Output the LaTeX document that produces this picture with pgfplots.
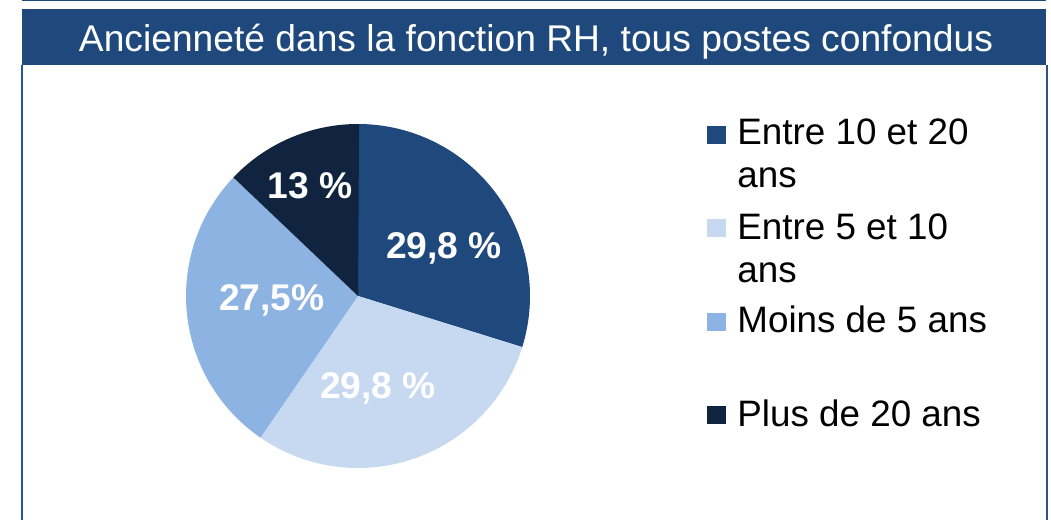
\documentclass[border=0pt]{standalone}
\usepackage{pgfplots}
\pgfplotsset{compat=1.18}
\usepackage{fontspec}
\setmainfont{Liberation Sans}
\definecolor{cA}{HTML}{1F497D}
\definecolor{cB}{HTML}{C6D9F1}
\definecolor{cC}{HTML}{8DB3E2}
\definecolor{cD}{HTML}{11243F}
\definecolor{frame}{HTML}{2A5589}
% data (percent)
\def\vA{29.8}\def\vB{29.8}\def\vC{27.5}\def\vD{13}
\begin{document}
\begin{tikzpicture}
\path[use as bounding box] (0,0) rectangle (525.5pt,260pt);
% frame and title bar
\fill[cA] (11pt,259.3pt) rectangle (523pt,260pt);
\fill[cA] (11pt,227.5pt) rectangle (523pt,255.5pt);
\draw[frame,line width=1pt] (11pt,227.5pt) -- (11pt,0pt);
\draw[frame,line width=1pt] (523.3pt,227.5pt) -- (523.3pt,0pt);
\node[anchor=base,text=white,font=\fontsize{18.6pt}{20pt}\selectfont] at (268pt,234pt) {Ancienneté dans la fonction RH, tous postes confondus};
% pie
\pgfmathsetmacro{\aA}{90}
\pgfmathsetmacro{\aB}{\aA-3.6*\vA}
\pgfmathsetmacro{\aC}{\aB-3.6*\vB}
\pgfmathsetmacro{\aD}{\aC-3.6*\vC}
\pgfmathsetmacro{\aE}{\aD-3.6*\vD}
\begin{axis}[at={(179pt,112pt)},anchor=center,width=172pt,height=172pt,scale only axis,
  xmin=-1,xmax=1,ymin=-1,ymax=1,hide axis,clip=false]
\addplot[draw=none,fill=cA,domain=\aB:\aA,samples=80] ({cos(x)},{sin(x)}) -- (axis cs:0,0) -- cycle;
\addplot[draw=none,fill=cB,domain=\aC:\aB,samples=80] ({cos(x)},{sin(x)}) -- (axis cs:0,0) -- cycle;
\addplot[draw=none,fill=cC,domain=\aD:\aC,samples=80] ({cos(x)},{sin(x)}) -- (axis cs:0,0) -- cycle;
\addplot[draw=none,fill=cD,domain=\aE:\aD,samples=80] ({cos(x)},{sin(x)}) -- (axis cs:0,0) -- cycle;
\tikzset{lbl/.style={text=white,font=\bfseries\fontsize{18.6pt}{20pt}\selectfont}}
\node[lbl] at (axis cs:0.5,0.279) {29,8 \%};
\node[lbl] at (axis cs:0.116,-0.535) {29,8 \%};
\node[lbl] at (axis cs:-0.5,-0.023) {27,5\%};
\node[lbl] at (axis cs:-0.279,0.64) {13 \%};
\end{axis}
% legend
\tikzset{lg/.style={anchor=base west,inner sep=0pt,font=\fontsize{18.4pt}{20pt}\selectfont}}
\fill[cA] (353.5pt,188pt) rectangle (363pt,197pt);
\fill[cB] (353.5pt,141.5pt) rectangle (363pt,150.5pt);
\fill[cC] (353.5pt,94.5pt) rectangle (363pt,103.5pt);
\fill[cD] (353.5pt,48pt) rectangle (363pt,57pt);
\node[lg] at (368.5pt,187.5pt) {Entre 10 et 20};
\node[lg] at (368.5pt,166pt) {ans};
\node[lg] at (368.5pt,140pt) {Entre 5 et 10};
\node[lg] at (368.5pt,118.5pt) {ans};
\node[lg] at (368.5pt,93.5pt) {Moins de 5 ans};
\node[lg] at (368.5pt,46.5pt) {Plus de 20 ans};
\end{tikzpicture}
\end{document}
